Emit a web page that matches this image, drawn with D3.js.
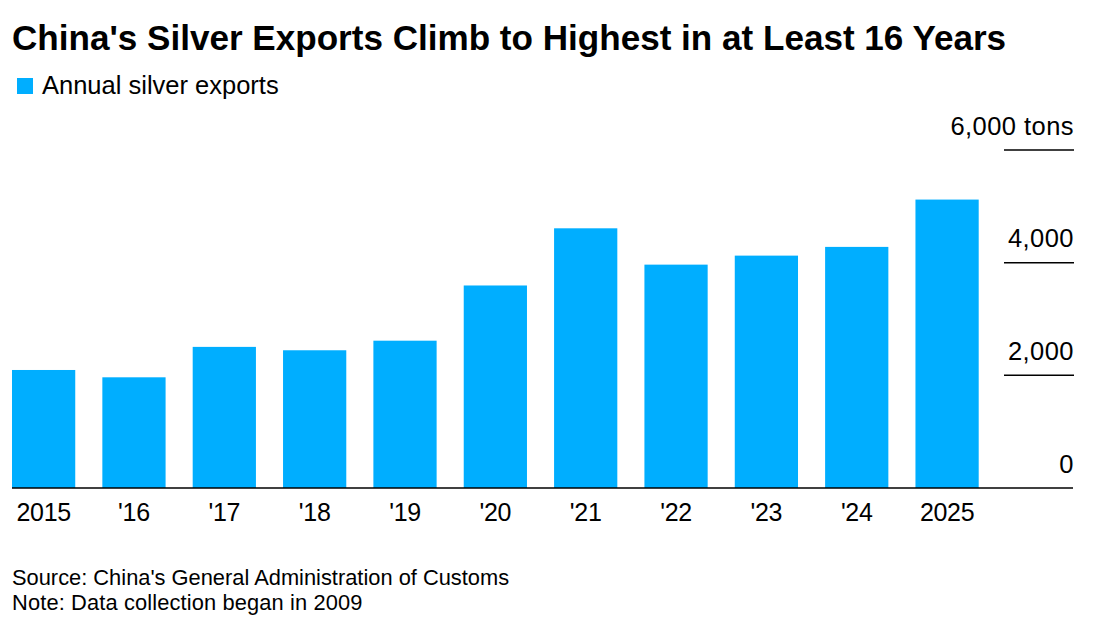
<!DOCTYPE html>
<html>
<head>
<meta charset="utf-8">
<script src="https://cdn.jsdelivr.net/npm/d3@7"></script>
<style>
  html, body { margin: 0; padding: 0; background: #fff; }
  text { font-family: "Liberation Sans", Arial, sans-serif; fill: #000; }
</style>
</head>
<body>
<svg id="viz" style="display:block"></svg>
<script>
// the data
var years = ["2015", "'16", "'17", "'18", "'19", "'20", "'21", "'22", "'23", "'24", "2025"];
var exportsTons = [2095, 1965, 2505, 2445, 2615, 3595, 4610, 3965, 4125, 4280, 5120];
var tickValues = [0, 2000, 4000, 6000];
var tickLabels = ["0", "2,000", "4,000", "6,000 tons"];

var w = 1098;
var h = 619;
var svg = d3.select("#viz").attr("width", w).attr("height", h);

// scales
var x = d3.scaleBand().domain(years).range([12, 978.7]).paddingInner(0.3).paddingOuter(0);
var y = d3.scaleLinear().domain([0, 6000]).range([488, 150]);

// title + legend
svg.append("text").attr("x", 12).attr("y", 50)
  .style("font-size", "35.1px").style("font-weight", "700")
  .text("China's Silver Exports Climb to Highest in at Least 16 Years");
svg.append("rect").attr("x", 17).attr("y", 78).attr("width", 16).attr("height", 16).attr("fill", "#00aeff");
svg.append("text").attr("x", 42).attr("y", 94).style("font-size", "25.5px").text("Annual silver exports");

// the bars
svg.selectAll("rect.bar").data(exportsTons).enter().append("rect")
  .attr("class", "bar")
  .attr("x", function(d, i) { return x(years[i]); })
  .attr("width", x.bandwidth())
  .attr("y", function(d) { return y(d); })
  .attr("height", function(d) { return y(0) - y(d); })
  .attr("fill", "#00aeff");

// baseline
svg.append("line").attr("x1", 12).attr("x2", 1073).attr("y1", y(0)).attr("y2", y(0))
  .attr("stroke", "#000").attr("stroke-width", 1.5);

// y ticks
tickValues.forEach(function(v, i) {
  if (v > 0) {
    svg.append("line").attr("x1", 1004).attr("x2", 1074).attr("y1", y(v)).attr("y2", y(v))
      .attr("stroke", "#000").attr("stroke-width", 1.5);
  }
  svg.append("text").attr("x", 1074).attr("y", y(v) - 15.5).attr("text-anchor", "end")
    .style("font-size", "25.5px").style("letter-spacing", "0.45px").text(tickLabels[i]);
});

// x labels
var xAxis = d3.axisBottom(x).tickSize(0).tickPadding(0);
var gx = svg.append("g").attr("transform", "translate(0,499)").call(xAxis);
gx.select(".domain").remove();
gx.selectAll("text").attr("dy", "0.86em")
  .style("font-size", "25px").style("letter-spacing", "-0.3px")
  .style("font-family", '"Liberation Sans", Arial, sans-serif');

// footer
svg.append("text").attr("x", 12).attr("y", 585).style("font-size", "21.85px").text("Source: China's General Administration of Customs");
svg.append("text").attr("x", 12).attr("y", 610).style("font-size", "21.85px").style("letter-spacing", "0.13px").text("Note: Data collection began in 2009");
</script>
</body>
</html>
